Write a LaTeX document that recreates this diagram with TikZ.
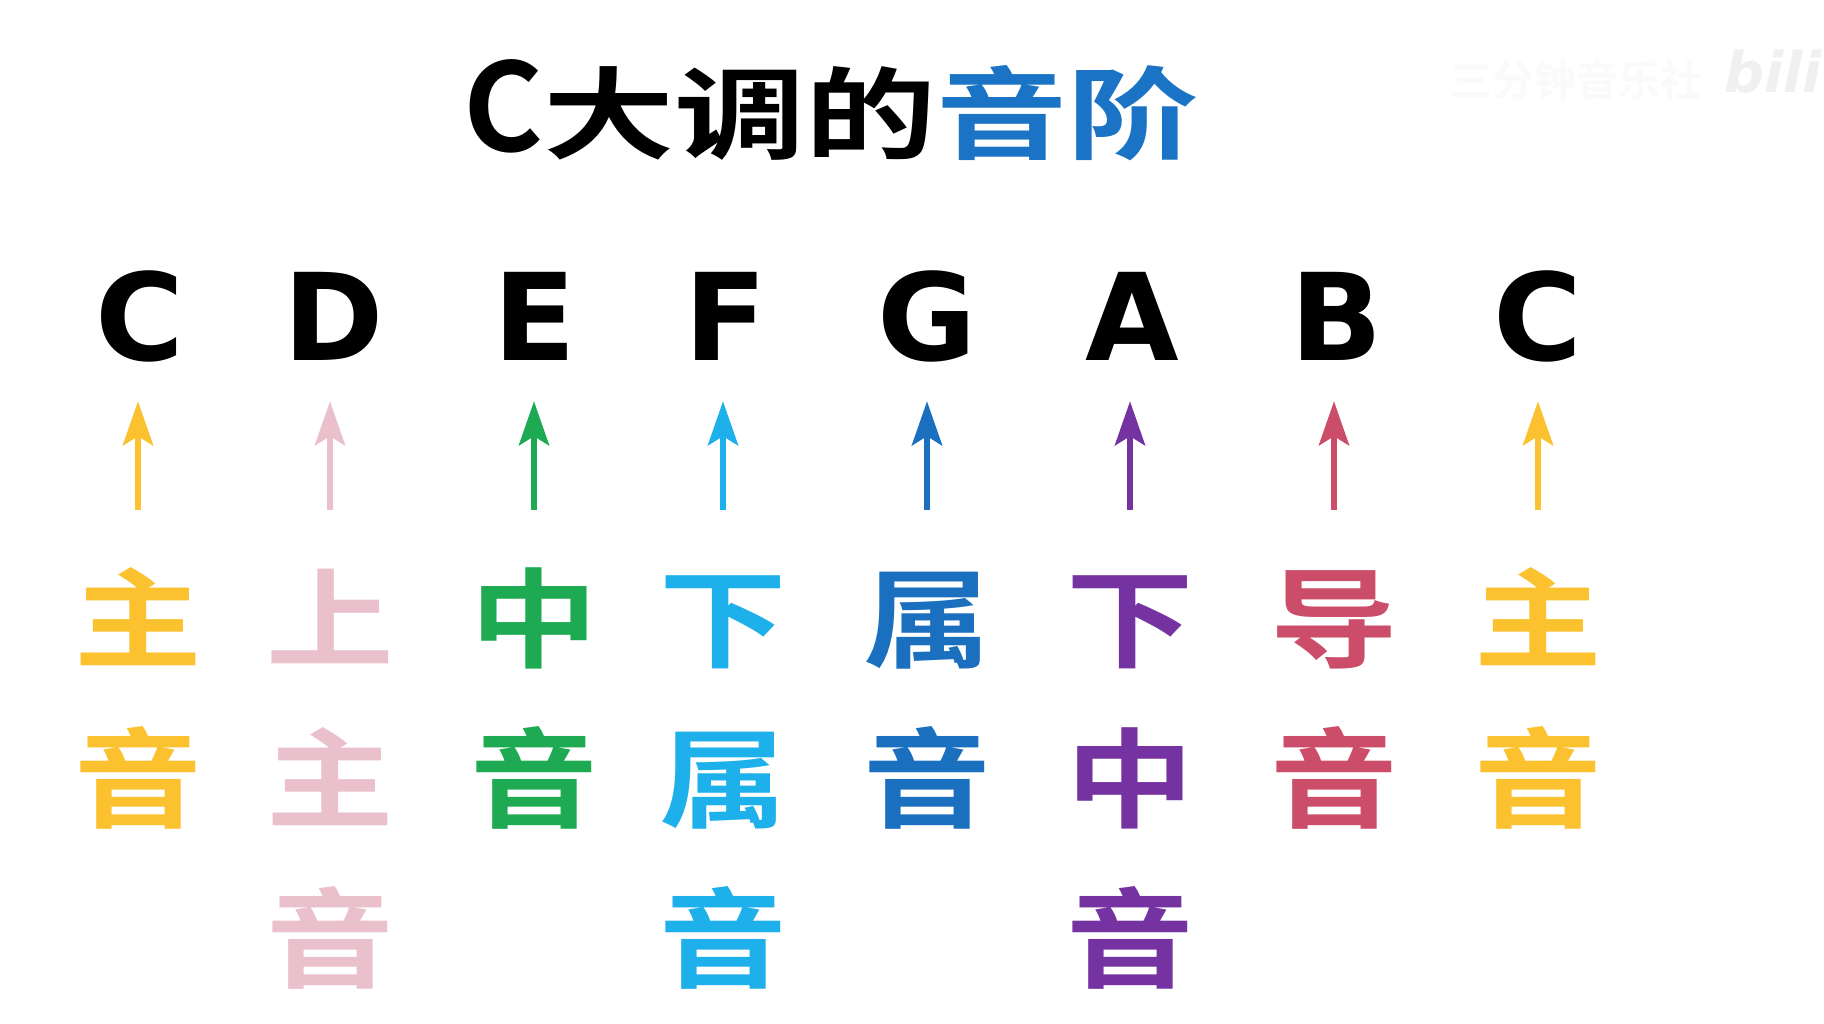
\documentclass[tikz,border=0pt]{standalone}
\usepackage{fontspec}
\usepackage{graphicx}
\usetikzlibrary{arrows.meta}
\newfontfamily\cjk{Noto Sans CJK SC}[BoldFont=* Bold]
\newfontfamily\lat{DejaVu Sans}[BoldFont=* Bold]
\newcommand\widen[1]{\scalebox{1.18}[1]{#1}}
\newcommand\twiden[1]{\scalebox{1.31}[1]{#1}}
\definecolor{cyel}{HTML}{FBC12F}
\definecolor{cpink}{HTML}{E9C0CB}
\definecolor{cgreen}{HTML}{1DAA52}
\definecolor{clblue}{HTML}{1EB0EA}
\definecolor{cblue}{HTML}{1A6FBF}
\definecolor{cpurple}{HTML}{7433A0}
\definecolor{cred}{HTML}{CC4D69}
\definecolor{tblue}{HTML}{1A73C4}
\tikzset{
  letter/.style={font=\lat\bfseries\fontsize{121}{121}\selectfont, inner sep=0pt,
    text height=88pt, text depth=0pt, anchor=base},
  deg/.style={font=\cjk\bfseries\fontsize{108}{108}\selectfont, inner sep=0pt,
    text height=90pt, text depth=8pt, anchor=base},
  arr/.style={line width=6.5pt, -{Stealth[length=44pt,width=30pt,inset=9pt]},
    shorten <=59pt, shorten >=40pt},
}
\begin{document}
\begin{tikzpicture}[x=1pt,y=-1pt]
\useasboundingbox[fill=white] (0,0) rectangle (1824,1024);
% watermark
\node[anchor=west, inner sep=0pt, text=black!2] (wm) at (1450,80)
  {\cjk\bfseries\fontsize{42}{42}\selectfont 三分钟音乐社};
\node[anchor=east, inner sep=0pt, text=black!6] (logo) at (1822,72)
  {\lat\bfseries\itshape\fontsize{56}{56}\selectfont bili};
% title
\node[anchor=base west, inner sep=0pt] (title) at (463,152)
  {\cjk\bfseries\fontsize{100}{100}\selectfont{\fontsize{122}{122}\selectfont C}\twiden{大调的}\textcolor{tblue}{\twiden{音阶}}};
% letters
\node[letter] (L1) at (140,361) {C};
\node[letter] (L2) at (334,361) {D};
\node[letter] (L3) at (535,361) {E};
\node[letter] (L4) at (726,361) {F};
\node[letter] (L5) at (927,361) {G};
\node[letter] (L6) at (1132,361) {A};
\node[letter] (L7) at (1337,361) {B};
\node[letter] (L8) at (1538,361) {C};
% degree names
\node[deg, text=cyel] (a1) at (138,659) {\widen{主}};
\node[deg, text=cyel] (b1) at (138,819) {\widen{音}};
\node[deg, text=cpink] (a2) at (330,659) {\widen{上}};
\node[deg, text=cpink] (b2) at (330,819) {\widen{主}};
\node[deg, text=cpink] (c2) at (330,979) {\widen{音}};
\node[deg, text=cgreen] (a3) at (534,659) {\widen{中}};
\node[deg, text=cgreen] (b3) at (534,819) {\widen{音}};
\node[deg, text=clblue] (a4) at (723,659) {\widen{下}};
\node[deg, text=clblue] (b4) at (723,819) {\widen{属}};
\node[deg, text=clblue] (c4) at (723,979) {\widen{音}};
\node[deg, text=cblue] (a5) at (927,659) {\widen{属}};
\node[deg, text=cblue] (b5) at (927,819) {\widen{音}};
\node[deg, text=cpurple] (a6) at (1130,659) {\widen{下}};
\node[deg, text=cpurple] (b6) at (1130,819) {\widen{中}};
\node[deg, text=cpurple] (c6) at (1130,979) {\widen{音}};
\node[deg, text=cred] (a7) at (1334,659) {\widen{导}};
\node[deg, text=cred] (b7) at (1334,819) {\widen{音}};
\node[deg, text=cyel] (a8) at (1538,659) {\widen{主}};
\node[deg, text=cyel] (b8) at (1538,819) {\widen{音}};
% arrows
\draw[arr, cyel] (a1.north) -- (a1.north |- L1.south);
\draw[arr, cpink] (a2.north) -- (a2.north |- L2.south);
\draw[arr, cgreen] (a3.north) -- (a3.north |- L3.south);
\draw[arr, clblue] (a4.north) -- (a4.north |- L4.south);
\draw[arr, cblue] (a5.north) -- (a5.north |- L5.south);
\draw[arr, cpurple] (a6.north) -- (a6.north |- L6.south);
\draw[arr, cred] (a7.north) -- (a7.north |- L7.south);
\draw[arr, cyel] (a8.north) -- (a8.north |- L8.south);
\end{tikzpicture}
\end{document}
